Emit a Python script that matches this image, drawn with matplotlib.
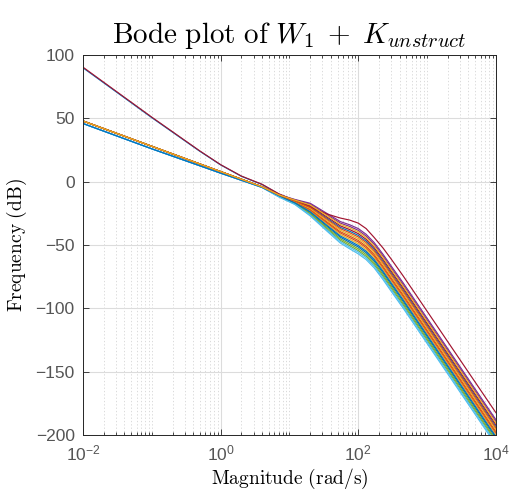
import numpy as np
import matplotlib
matplotlib.use('Agg')
import matplotlib.pyplot as plt
from matplotlib.ticker import LogLocator, FixedLocator, NullFormatter

plt.rcParams['font.family'] = ['Liberation Sans', 'DejaVu Sans']

# frequency points (rad/s) where the magnitudes were read
w = [0.01, 0.1, 0.5, 1, 2, 4, 7, 12, 20, 35, 55, 75, 100, 130, 170, 230, 300, 450, 600, 10000]

# magnitude (dB) of each response, one list per curve
mags = [
    [90.0, 50.6, 24.0, 13.3, 4.3, -2.2, -9.8, -15.1, -19.7, -28.8, -36.1, -39.1, -42.4, -46.9, -53.4, -62.9, -71.9, -85.4, -95.4, -193.4],
    [48.0, 28.0, 14.0, 8.0, 2.0, -4.0, -10.6, -15.9, -21.7, -31.6, -39.5, -42.9, -46.4, -50.9, -57.4, -66.9, -75.9, -89.4, -99.4, -197.4],
    [48.0, 28.0, 14.0, 8.0, 2.0, -4.0, -10.8, -16.4, -23.0, -33.4, -41.7, -45.4, -49.0, -53.5, -60.0, -69.5, -78.5, -92.0, -102.0, -200.0],
    [48.0, 28.0, 14.0, 8.0, 2.0, -4.0, -10.2, -14.0, -17.0, -25.0, -31.5, -34.0, -37.0, -41.5, -48.0, -57.5, -66.5, -80.0, -90.0, -188.0],
    [48.0, 28.0, 14.0, 8.0, 2.0, -4.1, -11.4, -17.5, -25.7, -37.2, -46.3, -50.5, -54.4, -58.9, -65.4, -74.9, -83.9, -97.4, -107.4, -205.4],
    [46.0, 26.0, 12.6, 6.8, 1.2, -4.6, -12.0, -18.0, -27.0, -39.0, -48.5, -53.0, -57.0, -61.5, -68.0, -77.5, -86.5, -100.0, -110.0, -208.0],
    [90.5, 51.0, 24.3, 13.5, 4.5, -2.0, -9.5, -14.8, -19.0, -27.8, -34.9, -37.8, -41.0, -45.5, -52.0, -61.5, -70.5, -84.0, -94.0, -192.0],
    [46.0, 26.0, 12.6, 6.8, 1.2, -4.4, -11.1, -16.9, -24.3, -35.2, -43.9, -47.9, -51.6, -56.1, -62.6, -72.1, -81.1, -94.6, -104.6, -202.6],
    [48.0, 28.0, 14.0, 8.0, 2.0, -4.0, -10.7, -16.1, -22.3, -32.4, -40.5, -44.1, -47.6, -52.1, -58.6, -68.1, -77.1, -90.6, -100.6, -198.6],
    [48.0, 28.0, 14.0, 8.0, 2.0, -4.0, -10.5, -15.6, -21.0, -30.6, -38.3, -41.6, -45.0, -49.5, -56.0, -65.5, -74.5, -88.0, -98.0, -196.0],
    [48.0, 28.0, 14.0, 8.0, 2.0, -4.0, -10.3, -14.3, -17.7, -26.0, -32.7, -35.3, -38.4, -42.9, -49.4, -58.9, -67.9, -81.4, -91.4, -189.4],
    [48.0, 28.0, 14.0, 8.0, 2.0, -4.1, -11.3, -17.2, -25.0, -36.2, -45.1, -49.2, -53.0, -57.5, -64.0, -73.5, -82.5, -96.0, -106.0, -204.0],
    [46.0, 26.0, 12.6, 6.8, 1.2, -4.5, -11.8, -17.7, -26.3, -38.0, -47.3, -51.7, -55.6, -60.1, -66.6, -76.1, -85.1, -98.6, -108.6, -206.6],
    [48.0, 28.0, 14.0, 8.0, 2.0, -4.0, -10.4, -15.0, -20.0, -25.5, -28.7, -30.3, -32.7, -37.0, -44.0, -52.5, -61.0, -74.5, -84.5, -182.5],
    [46.0, 26.0, 12.6, 6.8, 1.2, -4.4, -10.9, -16.7, -23.7, -34.4, -42.9, -46.7, -50.4, -54.9, -61.4, -70.9, -79.9, -93.4, -103.4, -201.4],
    [48.0, 28.0, 14.0, 8.0, 2.0, -4.0, -10.5, -15.3, -20.3, -29.6, -37.1, -40.3, -43.6, -48.1, -54.6, -64.1, -73.1, -86.6, -96.6, -194.6],
    [48.0, 28.0, 14.0, 8.0, 2.0, -4.0, -10.3, -14.5, -18.3, -26.8, -33.7, -36.5, -39.6, -44.1, -50.6, -60.1, -69.1, -82.6, -92.6, -190.6],
]

# MATLAB default colour order
colors = ['#0072BD', '#D95319', '#EDB120', '#7E2F8E', '#77AC30', '#4DBEEE', '#A2142F']

fig = plt.figure(figsize=(5.16, 4.93), dpi=100)
ax = fig.add_axes([0.161, 0.118, 0.8, 0.77])

for i, m in enumerate(mags):
    ax.plot(w, m, color=colors[i % 7], lw=0.85)

ax.set_xscale('log')
ax.set_xlim(1e-2, 1e4)
ax.set_ylim(-200, 100)
ax.xaxis.set_major_locator(FixedLocator([1e-2, 1e0, 1e2, 1e4]))
ax.xaxis.set_minor_locator(LogLocator(base=10, subs=np.arange(1, 10), numticks=30))
ax.xaxis.set_minor_formatter(NullFormatter())
ax.set_yticks(np.arange(-200, 101, 50))

ax.grid(True, which='major', color='#dcdcdc', lw=0.8, ls='-')
ax.grid(True, which='minor', axis='x', color='#d4d4d4', lw=0.6, ls=(0, (1.5, 2.5)))
ax.set_axisbelow(True)

ax.tick_params(which='both', direction='in', top=True, right=True, colors='#262626',
               labelcolor='#555555', labelsize=12.5, width=0.6)
ax.tick_params(which='major', length=4)
ax.tick_params(which='minor', length=2.5)
ax.tick_params(axis='x', pad=6)
ax.tick_params(axis='y', pad=6)
for s in ax.spines.values():
    s.set_color('#262626')
    s.set_linewidth(0.7)

ax.set_title(r'$\mathrm{Bode\ plot\ of\ }W_1\;+\;K_{unstruct}$', math_fontfamily='cm',
             fontsize=21, pad=9)
ax.set_xlabel(r'$\mathrm{Magnitude\ (rad/s)}$', math_fontfamily='cm', fontsize=14, labelpad=3)
ax.set_ylabel(r'$\mathrm{Frequency\ (dB)}$', math_fontfamily='cm', fontsize=14, labelpad=5)

fig.savefig('out.png', dpi=100)
